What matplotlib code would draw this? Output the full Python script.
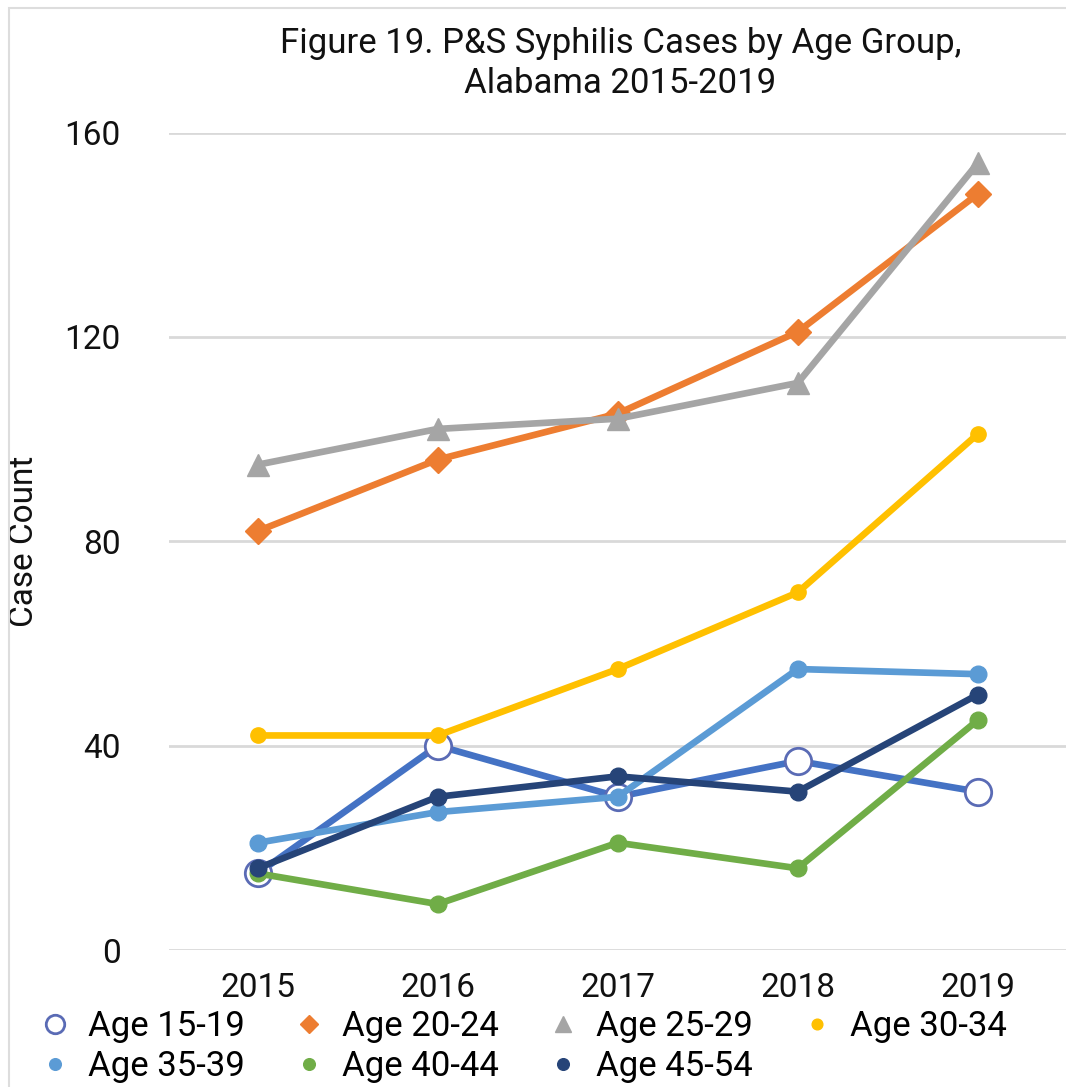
import matplotlib
matplotlib.use("Agg")
import matplotlib.pyplot as plt
from matplotlib.patches import Rectangle

years = [2015, 2016, 2017, 2018, 2019]
age_15_19 = [15, 40, 30, 37, 31]
age_20_24 = [82, 96, 105, 121, 148]
age_25_29 = [95, 102, 104, 111, 154]
age_30_34 = [42, 42, 55, 70, 101]
age_35_39 = [21, 27, 30, 55, 54]
age_40_44 = [15, 9, 21, 16, 45]
age_45_54 = [16, 30, 34, 31, 50]
labels = ["Age 15-19", "Age 20-24", "Age 25-29", "Age 30-34",
          "Age 35-39", "Age 40-44", "Age 45-54"]
yticks = [0, 40, 80, 120, 160]

plt.rcParams['font.family'] = ['Roboto', 'DejaVu Sans']

fig = plt.figure(figsize=(10.66, 10.87), dpi=100)
ax = fig.add_axes([0.159, 0.126, 0.841, 0.752])

lw = 4.8
series = [
    (age_15_19, dict(color="#4472C4", marker="o", markersize=19, markerfacecolor="white",
                     markeredgecolor="#5A6BB5", markeredgewidth=2)),
    (age_20_24, dict(color="#ED7D31", marker="D", markersize=13)),
    (age_25_29, dict(color="#A5A5A5", marker="^", markersize=16)),
    (age_30_34, dict(color="#FFC000", marker="o", markersize=11)),
    (age_35_39, dict(color="#5B9BD5", marker="o", markersize=12)),
    (age_40_44, dict(color="#70AD47", marker="o", markersize=12)),
    (age_45_54, dict(color="#264478", marker="o", markersize=12)),
]
handles = []
for (vals, kw), lab in zip(series, labels):
    h, = ax.plot(years, vals, linewidth=lw, label=lab, clip_on=False, **kw)
    handles.append(h)

ax.set_xlim(2014.51, 2019.49)
ax.set_ylim(0, 160)
ax.set_yticks(yticks)
ax.set_xticks(years)
ax.grid(axis='y', color="#D9D9D9", linewidth=2)
ax.set_axisbelow(True)
for s in ax.spines.values():
    s.set_visible(False)
ax.tick_params(axis='both', length=0, labelsize=24, colors="#111111")
ax.tick_params(axis='y', pad=35)
ax.tick_params(axis='x', pad=16)
ax.set_ylabel("Case Count", fontsize=24, color="#111111")
ax.yaxis.set_label_coords(-0.145, 0.5)

fig.text(0.582, 0.975, "Figure 19. P&S Syphilis Cases by Age Group,\nAlabama 2015-2019",
         ha='center', va='top', fontsize=25, color="#111111", linespacing=1.25)

# legend: matplotlib fills column-first; reorder so entries read row-wise
order = [0, 4, 1, 5, 2, 6, 3]
leg = fig.legend(handles=[handles[i] for i in order], labels=[labels[i] for i in order],
                 ncol=4, loc='lower left',
                 bbox_to_anchor=(0.008, -0.025), frameon=False, fontsize=25,
                 handlelength=0.9, handletextpad=0.5, columnspacing=1.4,
                 labelspacing=0.2, markerscale=0.7)
for lh in leg.legend_handles:
    lh.set_linestyle('none')

fig.patches.append(Rectangle((0.008, -0.01), 1.0, 1.003, transform=fig.transFigure,
                             fill=False, edgecolor="#DDDDDD", linewidth=1.5))

fig.savefig("out.png", dpi=100)
